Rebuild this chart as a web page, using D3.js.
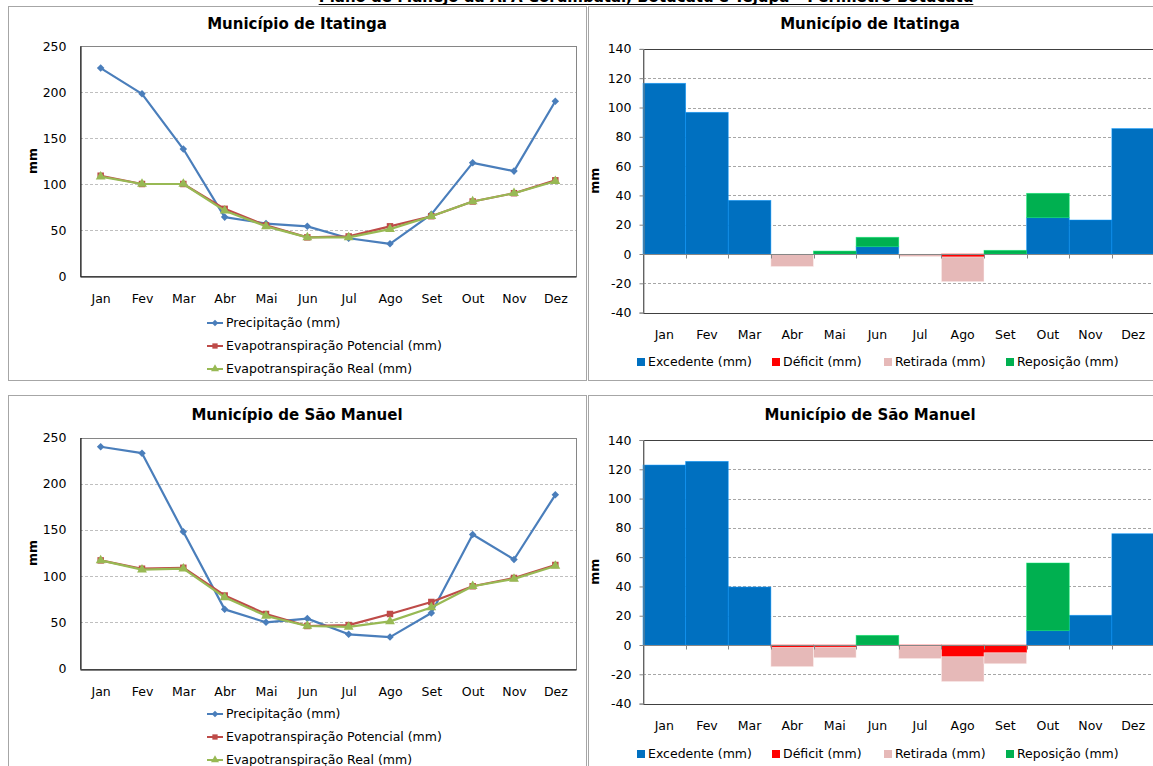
<!DOCTYPE html>
<html>
<head>
<meta charset="utf-8">
<script src="https://cdn.jsdelivr.net/npm/d3@7"></script>
<style>
body { margin: 0; background: #fff; }
svg { display: block; }
text { font-family: 'DejaVu Sans', Verdana, sans-serif; fill: #000; }
</style>
</head>
<body>
<svg id="chart" width="1153" height="766"></svg>
<script>
const months = ['Jan', 'Fev', 'Mar', 'Abr', 'Mai', 'Jun', 'Jul', 'Ago', 'Set', 'Out', 'Nov', 'Dez'];

// Município de Itatinga
const itaPrecip = [226, 198, 138, 64, 57, 54, 41, 35, 67, 123, 114, 190];
const itaEtp = [109, 100, 100, 73, 55, 42, 43, 54, 65, 81, 90, 104];
const itaEtr = [108, 100, 100, 71, 54, 42, 42, 51, 65, 81, 90, 103];
const itaExcedente = [116.5, 96.7, 36.6, 0, 0, 5, 0, 0, 0, 24.8, 23.2, 85.6];
const itaDeficit = [0, 0, 0, 0, 0, 0, 0, -2, 0, 0, 0, 0];
const itaRetirada = [0, 0, 0, -8.6, 0, 0, -1.8, -16.9, 0, 0, 0, 0];
const itaReposicao = [0, 0, 0, 0, 2, 6.4, 0, 0, 2.5, 16.6, 0, 0];

// Município de São Manuel
const smPrecip = [240, 233, 148, 64, 50, 54, 37, 34, 60, 145, 118, 188];
const smEtp = [117, 108, 109, 79, 59, 46, 47, 59, 72, 89, 98, 112];
const smEtr = [117, 107, 108, 77, 57, 46, 45, 51, 66, 89, 97, 111];
const smExcedente = [122.9, 125.4, 39.6, 0, 0, 0, 0, 0, 0, 9.8, 20.3, 76];
const smDeficit = [0, 0, 0, -1.6, -1.5, 0, -1, -8, -5.3, 0, 0, 0];
const smRetirada = [0, 0, 0, -13.2, -7.2, 0, -8.3, -17, -7.5, 0, 0, 0];
const smReposicao = [0, 0, 0, 0, 0, 6.6, 0, 0, 0, 46.2, 0, 0];

const lineTicks = [0, 50, 100, 150, 200, 250];
const barTicks = [-40, -20, 0, 20, 40, 60, 80, 100, 120, 140];

const lineSeries = ['Precipitação (mm)', 'Evapotranspiração Potencial (mm)', 'Evapotranspiração Real (mm)'];
const barSeries = ['Excedente (mm)', 'Déficit (mm)', 'Retirada (mm)', 'Reposição (mm)'];

const lineColors = ['#4A7EBB', '#BE4B48', '#98B954'];
const lineSymbols = [d3.symbolDiamond2, d3.symbolSquare, d3.symbolTriangle];
const barColors = ['#0070C0', '#FF0000', '#E6B9B8', '#00B050'];

const svg = d3.select('#chart');

// header, cut off at the top edge like the source page
const header = svg.append('text')
    .attr('x', 646)
    .attr('y', 2)
    .attr('text-anchor', 'middle')
    .style('font-weight', 'bold')
    .style('font-size', '15px')
    .text('Plano de Manejo da APA Corumbataí, Botucatu e Tejupá – Perímetro Botucatu');
const hb = header.node().getBBox();
svg.append('line')
    .attr('x1', hb.x).attr('x2', hb.x + hb.width)
    .attr('y1', 4.5).attr('y2', 4.5)
    .attr('stroke', '#000').attr('stroke-width', 1);

// panels
const panels = [
    {x: 8.5, y: 6.5, w: 578, h: 374},
    {x: 588.5, y: 6.5, w: 600, h: 374},
    {x: 8.5, y: 395.5, w: 578, h: 400},
    {x: 588.5, y: 395.5, w: 600, h: 400}
];
panels.forEach(p => {
    svg.append('rect')
        .attr('x', p.x).attr('y', p.y)
        .attr('width', p.w).attr('height', p.h)
        .attr('fill', 'none')
        .attr('stroke', '#a6a6a6');
});

function drawLineChart(cfg) {
    const g = svg.append('g');
    const x = d3.scalePoint().domain(months).range([cfg.left, cfg.right]).padding(0.5);
    const y = d3.scaleLinear().domain([0, 250]).range([cfg.bottom, cfg.top]);

    g.append('text')
        .attr('x', cfg.titleX).attr('y', cfg.titleY)
        .attr('text-anchor', 'middle')
        .style('font-weight', 'bold')
        .style('font-size', '15px')
        .text(cfg.title);

    // grid
    g.selectAll('.grid')
        .data(lineTicks.filter(t => t > 0 && t < 250))
        .enter().append('line')
        .attr('x1', cfg.left).attr('x2', cfg.right)
        .attr('y1', d => Math.round(y(d)) + 0.5).attr('y2', d => Math.round(y(d)) + 0.5)
        .attr('stroke', '#bfbfbf')
        .attr('stroke-dasharray', '3,2');

    g.append('rect')
        .attr('x', cfg.left + 0.5).attr('y', Math.round(cfg.top) + 0.5)
        .attr('width', cfg.right - cfg.left).attr('height', Math.round(cfg.bottom) - Math.round(cfg.top))
        .attr('fill', 'none')
        .attr('stroke', '#868686');

    const yAxis = g.append('g')
        .attr('transform', `translate(${cfg.left + 0.5},0)`)
        .call(d3.axisLeft(y).tickValues(lineTicks).tickSize(0).tickPadding(14).tickFormat(d => String(d)));
    yAxis.select('.domain').attr('stroke', '#000');
    yAxis.selectAll('text').style('font-size', '12.5px').style('font-family', "'DejaVu Sans', Verdana, sans-serif");

    const xAxis = g.append('g')
        .attr('transform', `translate(0,${Math.round(cfg.bottom) + 0.5})`)
        .call(d3.axisBottom(x).tickSize(0).tickPadding(18));
    xAxis.select('.domain').attr('stroke', '#000');
    xAxis.selectAll('text').style('font-size', '12.5px').style('font-family', "'DejaVu Sans', Verdana, sans-serif");

    g.append('text')
        .attr('transform', `translate(${cfg.left - 43},${(cfg.top + cfg.bottom) / 2}) rotate(-90)`)
        .attr('text-anchor', 'middle')
        .style('font-weight', 'bold')
        .style('font-size', '12.5px')
        .text('mm');

    const line = d3.line()
        .x((d, i) => x(months[i]))
        .y(d => y(d));

    cfg.series.forEach((vals, k) => {
        g.append('path')
            .datum(vals)
            .attr('d', line)
            .attr('fill', 'none')
            .attr('stroke', lineColors[k])
            .attr('stroke-width', 2.2)
            .attr('stroke-linejoin', 'round');
        g.selectAll('.m' + k)
            .data(vals)
            .enter().append('path')
            .attr('transform', (d, i) => `translate(${x(months[i])},${y(d)})`)
            .attr('d', d3.symbol().type(lineSymbols[k]).size(k === 0 ? 36 : 42))
            .attr('fill', lineColors[k]);
    });

    // legend
    lineSeries.forEach((name, k) => {
        const ly = cfg.legendY + k * 23;
        g.append('line')
            .attr('x1', 207).attr('x2', 223)
            .attr('y1', ly).attr('y2', ly)
            .attr('stroke', lineColors[k]).attr('stroke-width', 2);
        g.append('path')
            .attr('transform', `translate(215,${ly})`)
            .attr('d', d3.symbol().type(lineSymbols[k]).size(28))
            .attr('fill', lineColors[k]);
        g.append('text')
            .attr('x', 226).attr('y', ly)
            .attr('dy', '0.35em')
            .style('font-size', '12.5px')
            .text(name);
    });
}

function drawBarChart(cfg) {
    const g = svg.append('g');
    const x = d3.scaleBand().domain(months).range([cfg.left, cfg.right]).padding(0);
    const y = d3.scaleLinear().domain([-40, 140]).range([cfg.bottom, cfg.top]);

    g.append('text')
        .attr('x', cfg.titleX).attr('y', cfg.titleY)
        .attr('text-anchor', 'middle')
        .style('font-weight', 'bold')
        .style('font-size', '15px')
        .text(cfg.title);

    g.selectAll('.grid')
        .data(barTicks.filter(t => t !== 0 && t > -40 && t < 140))
        .enter().append('line')
        .attr('x1', cfg.left).attr('x2', cfg.right)
        .attr('y1', d => Math.round(y(d)) + 0.5).attr('y2', d => Math.round(y(d)) + 0.5)
        .attr('stroke', '#a6a6a6')
        .attr('stroke-dasharray', '3,2');

    g.append('rect')
        .attr('x', cfg.left + 0.5).attr('y', Math.round(cfg.top) + 0.5)
        .attr('width', cfg.right - cfg.left).attr('height', Math.round(cfg.bottom) - Math.round(cfg.top))
        .attr('fill', 'none')
        .attr('stroke', '#404040');

    const rows = months.map((m, i) => ({
        month: m,
        exc: cfg.excedente[i],
        def: cfg.deficit[i],
        ret: cfg.retirada[i],
        rep: cfg.reposicao[i]
    }));
    const keys = ['exc', 'def', 'ret', 'rep'];
    const stacked = d3.stack().keys(keys).offset(d3.stackOffsetDiverging)(rows);

    stacked.forEach((layer, k) => {
        g.selectAll('.b' + k)
            .data(layer.filter(d => d[1] !== d[0]))
            .enter().append('rect')
            .attr('x', d => x(d.data.month))
            .attr('width', x.bandwidth())
            .attr('y', d => y(Math.max(d[0], d[1])))
            .attr('height', d => Math.abs(y(d[0]) - y(d[1])))
            .attr('fill', barColors[k])
            .attr('stroke', d3.color(barColors[k]).brighter(0.8))
            .attr('stroke-opacity', 0.6)
            .attr('stroke-width', 0.8);
    });

    const yAxis = g.append('g')
        .attr('transform', `translate(${cfg.left + 0.5},0)`)
        .call(d3.axisLeft(y).tickValues(barTicks).tickSize(4).tickPadding(8).tickFormat(d => String(d)));
    yAxis.selectAll('.domain, line').attr('stroke', '#868686');
    yAxis.selectAll('text').style('font-size', '12.5px').style('font-family', "'DejaVu Sans', Verdana, sans-serif");

    // zero line with tick marks at band edges
    const y0 = Math.round(y(0)) + 0.5;
    g.append('line')
        .attr('x1', cfg.left).attr('x2', cfg.right)
        .attr('y1', y0).attr('y2', y0)
        .attr('stroke', '#868686');
    g.selectAll('.xt')
        .data(months.slice(1))
        .enter().append('line')
        .attr('x1', d => Math.round(x(d)) + 0.5).attr('x2', d => Math.round(x(d)) + 0.5)
        .attr('y1', y0).attr('y2', y0 + 4)
        .attr('stroke', '#868686');

    g.selectAll('.xl')
        .data(months)
        .enter().append('text')
        .attr('x', d => x(d) + x.bandwidth() / 2)
        .attr('y', cfg.labelY)
        .attr('dy', '0.35em')
        .attr('text-anchor', 'middle')
        .style('font-size', '12.5px')
        .text(d => d);

    g.append('text')
        .attr('transform', `translate(${cfg.left - 44},${(cfg.top + cfg.bottom) / 2}) rotate(-90)`)
        .attr('text-anchor', 'middle')
        .style('font-weight', 'bold')
        .style('font-size', '12.5px')
        .text('mm');

    const legendX = [637, 772, 884, 1006];
    barSeries.forEach((name, k) => {
        g.append('rect')
            .attr('x', legendX[k]).attr('y', cfg.legendY - 4)
            .attr('width', 8).attr('height', 8)
            .attr('fill', barColors[k]);
        g.append('text')
            .attr('x', legendX[k] + 11).attr('y', cfg.legendY)
            .attr('dy', '0.35em')
            .style('font-size', '12.5px')
            .text(name);
    });
}

drawLineChart({
    title: 'Município de Itatinga', titleX: 297, titleY: 29,
    left: 80, right: 576, top: 46, bottom: 276,
    legendY: 323,
    series: [itaPrecip, itaEtp, itaEtr]
});

drawLineChart({
    title: 'Município de São Manuel', titleX: 297, titleY: 420,
    left: 80, right: 576, top: 437.5, bottom: 668.5,
    legendY: 714,
    series: [smPrecip, smEtp, smEtr]
});

drawBarChart({
    title: 'Município de Itatinga', titleX: 870, titleY: 29,
    left: 643, right: 1154.5, top: 48.9, bottom: 312.6,
    labelY: 335, legendY: 362,
    excedente: itaExcedente, deficit: itaDeficit, retirada: itaRetirada, reposicao: itaReposicao
});

drawBarChart({
    title: 'Município de São Manuel', titleX: 870, titleY: 420,
    left: 643, right: 1154.5, top: 440, bottom: 703.6,
    labelY: 726, legendY: 754,
    excedente: smExcedente, deficit: smDeficit, retirada: smRetirada, reposicao: smReposicao
});
</script>
</body>
</html>
